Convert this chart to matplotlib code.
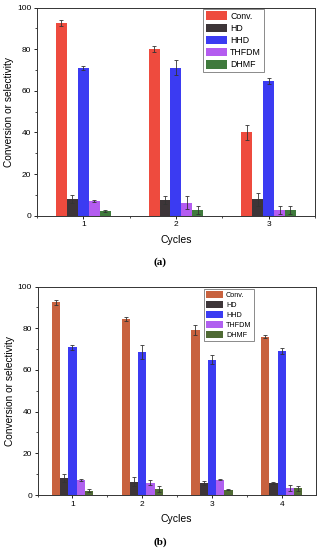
"""Conversion and selectivity over recycling runs, panels (a) and (b)."""

import matplotlib.pyplot as plt
import numpy as np
from matplotlib.ticker import MultipleLocator

plt.rcParams['font.family'] = ['Liberation Sans', 'DejaVu Sans']

series = ['Conv.', 'HD', 'HHD', 'THFDM', 'DHMF']

cycles_a = [1, 2, 3]
conv_a = [92.5, 80.0, 40.0]
hd_a = [8.1, 7.4, 7.8]
hhd_a = [70.8, 71.2, 64.8]
thfdm_a = [7.1, 6.2, 2.6]
dhmf_a = [2.1, 2.6, 2.6]
conv_a_err = [1.5, 1.5, 3.5]
hd_a_err = [2.0, 2.0, 3.0]
hhd_a_err = [1.0, 3.5, 1.5]
thfdm_a_err = [0.5, 3.0, 2.0]
dhmf_a_err = [0.5, 2.0, 2.0]

cycles_b = [1, 2, 3, 4]
conv_b = [92.5, 84.3, 79.1, 75.9]
hd_b = [8.2, 6.4, 5.6, 5.8]
hhd_b = [70.9, 68.6, 65.0, 69.0]
thfdm_b = [7.2, 5.9, 7.4, 3.4]
dhmf_b = [2.1, 2.9, 2.6, 3.2]
conv_b_err = [1.2, 1.0, 2.5, 0.8]
hd_b_err = [1.8, 2.0, 1.0, 0.3]
hhd_b_err = [1.2, 3.5, 2.0, 1.3]
thfdm_b_err = [0.5, 1.3, 0.4, 1.5]
dhmf_b_err = [0.6, 1.5, 0.2, 1.2]

colors_a = ['#ee4b3e', '#3d3538', '#3b3bf2', '#b45cf0', '#3f7a3c']
colors_b = ['#c8623f', '#3d3538', '#3b3bf2', '#b060f0', '#4f6a34']

width = 0.118


def panel(ax, cycles, values, errors, colors, xmax, legend_size, spacing, legend_box):
    x = np.array(cycles, dtype=float)
    for i, (name, vals, errs, col) in enumerate(zip(series, values, errors, colors)):
        ax.bar(x + (i - 2) * width, vals, width, yerr=errs, color=col,
               label=name, error_kw=dict(ecolor='#333333', elinewidth=0.6,
                                         capsize=1.6, capthick=0.6))
    ax.set_xlim(0.5, xmax)
    ax.set_ylim(0, 100)
    ax.set_xticks(cycles)
    ax.xaxis.set_minor_locator(MultipleLocator(0.5))
    ax.yaxis.set_major_locator(MultipleLocator(20))
    ax.yaxis.set_minor_locator(MultipleLocator(10))
    ax.tick_params(which='major', direction='out', length=2.5, width=0.6,
                   labelsize=6.0, pad=1.5)
    ax.tick_params(which='minor', direction='out', length=1.5, width=0.5)
    for s in ax.spines.values():
        s.set_linewidth(0.7)
        s.set_color('#333333')
    ax.set_xlabel('Cycles', fontsize=7.5, labelpad=5)
    ax.set_ylabel('Conversion or selectivity', fontsize=7.3, labelpad=2)
    leg = ax.legend(loc='upper left', bbox_to_anchor=legend_box, fontsize=legend_size,
                    frameon=True, fancybox=False, edgecolor='#555555',
                    handlelength=2.4, handleheight=1.1, handletextpad=0.4,
                    borderpad=0.3, labelspacing=spacing, borderaxespad=0)
    leg.get_frame().set_linewidth(0.6)


fig = plt.figure(figsize=(3.21, 5.5), dpi=100)

ax_a = fig.add_axes([0.115, 0.608, 0.866, 0.378])
panel(ax_a, cycles_a, [conv_a, hd_a, hhd_a, thfdm_a, dhmf_a],
      [conv_a_err, hd_a_err, hhd_a_err, thfdm_a_err, dhmf_a_err],
      colors_a, 3.5, 6.3, 0.35, (0.598, 0.995))

ax_b = fig.add_axes([0.117, 0.100, 0.867, 0.379])
panel(ax_b, cycles_b, [conv_b, hd_b, hhd_b, thfdm_b, dhmf_b],
      [conv_b_err, hd_b_err, hhd_b_err, thfdm_b_err, dhmf_b_err],
      colors_b, 4.49, 5.2, 0.3, (0.597, 0.99))

fig.text(0.5, 1 - 262 / 550, '(a)', ha='center', va='center', fontsize=8,
         fontweight='bold', family=['Liberation Serif', 'DejaVu Serif'])
fig.text(0.5, 1 - 542 / 550, '(b)', ha='center', va='center', fontsize=8,
         fontweight='bold', family=['Liberation Serif', 'DejaVu Serif'])

fig.savefig('out.png', dpi=100)
